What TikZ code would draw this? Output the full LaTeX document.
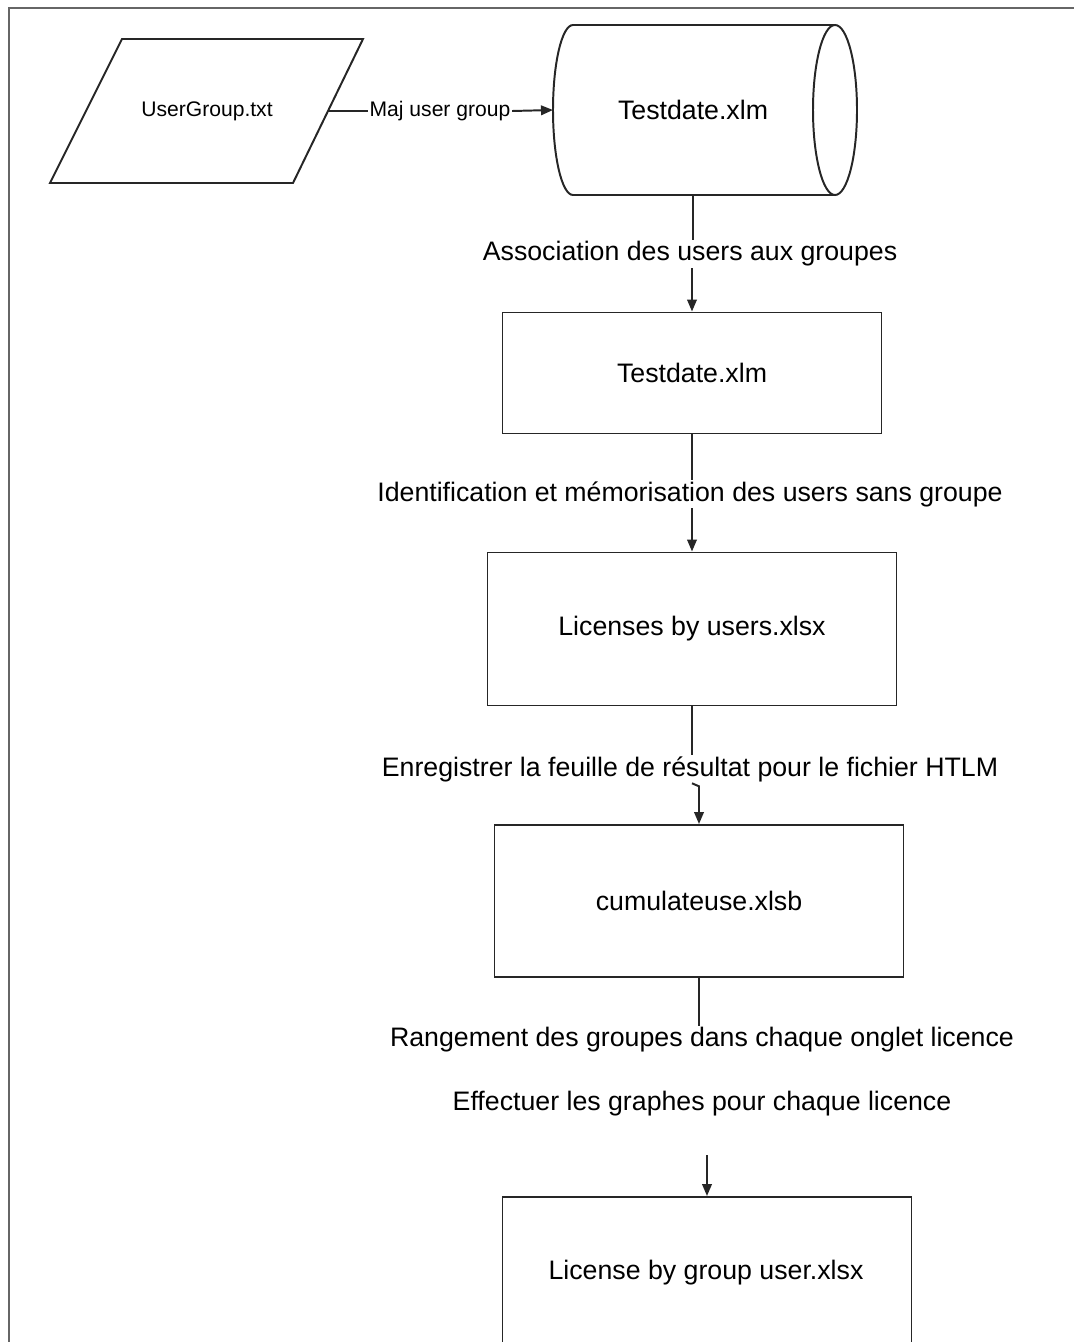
\documentclass[tikz,border=0pt]{standalone}
\usepackage{fontspec}
\setmainfont{Liberation Sans}
\usetikzlibrary{arrows.meta}

\tikzset{
  ligne/.style={line width=1.4pt, draw=black!85},
  fleche/.style={ligne, -{Triangle[length=0.3cm,width=0.24cm]}},
  boite/.style={draw=black!85, line width=1.4pt, minimum width=#1, inner sep=0pt, font=\fontsize{19}{21}\selectfont},
  etiq/.style={inner sep=1pt, font=\fontsize{19}{21}\selectfont},
}

\begin{document}
\begin{tikzpicture}[x=0.025cm,y=-0.025cm]

\useasboundingbox (0,0) rectangle (1074,1342);
\draw[black!60, line width=1.2pt] (9,1342) -- (9,8) -- (1074,8);

\draw[ligne] (122,39) -- (363,39) -- (293,183) -- (50,183) -- cycle;
\node (fichier) at (207,111) [font=\fontsize{15}{17}\selectfont] {UserGroup.txt};
\coordinate (fichierD) at (328,111);

\draw[ligne] (835,25) -- (573,25) arc[start angle=270, end angle=90, x radius=20, y radius=85] -- (835,195);
\draw[ligne] (835,110) ellipse [x radius=22, y radius=85];
\node (cyl) at (693,110) [font=\fontsize{19}{21}\selectfont] {Testdate.xlm};
\coordinate (cylG) at (553,110);
\coordinate (cylB) at (693,195);

\node (b1) at (692,373) [boite=379*0.025cm, minimum height=121*0.025cm] {Testdate.xlm};
\node (b2) at (692,629) [boite=409*0.025cm, minimum height=153*0.025cm] {Licenses by users.xlsx};
\node (b3) at (699,901) [boite=409*0.025cm, minimum height=152*0.025cm] {cumulateuse.xlsb};
\node (b4) at (707,1290) [boite=409*0.025cm, minimum height=186*0.025cm] {};
\node (b4txt) at (706,1273) [font=\fontsize{19}{21}\selectfont] {License by group user.xlsx};

\node (l0) at (440,111) [inner sep=1pt, font=\fontsize{15}{17}\selectfont] {Maj user group};
\node (l1) at (690,254) [etiq] {Association des users aux groupes};
\node (l2) at (690,494) [etiq] {Identification et mémorisation des users sans groupe};
\node (l3) at (690,769) [etiq] {Enregistrer la feuille de résultat pour le fichier HTLM};
\node (l4) at (702,1040) [etiq] {Rangement des groupes dans chaque onglet licence};
\node (l5) at (702,1104) [etiq] {Effectuer les graphes pour chaque licence};
\coordinate (c5) at (707,1155);

\draw[ligne] (fichierD) -- (l0.west);
\draw[fleche] (l0.east) -- (cylG);
\draw[ligne] (cylB) -- (cylB |- l1.north);
\draw[fleche] (l1.south -| b1.north) -- (b1.north);
\draw[ligne] (b1.south) -- (b1.south |- l2.north);
\draw[fleche] (l2.south -| b2.north) -- (b2.north);
\draw[ligne] (b2.south) -- (b2.south |- l3.north);
\draw[fleche] (l3.south -| b2.south) -- ++(7,3) -- (b3.north);
\draw[ligne] (b3.south) -- (b3.south |- l4.north);
\draw[fleche] (c5) -- (b4.north);

\end{tikzpicture}
\end{document}
